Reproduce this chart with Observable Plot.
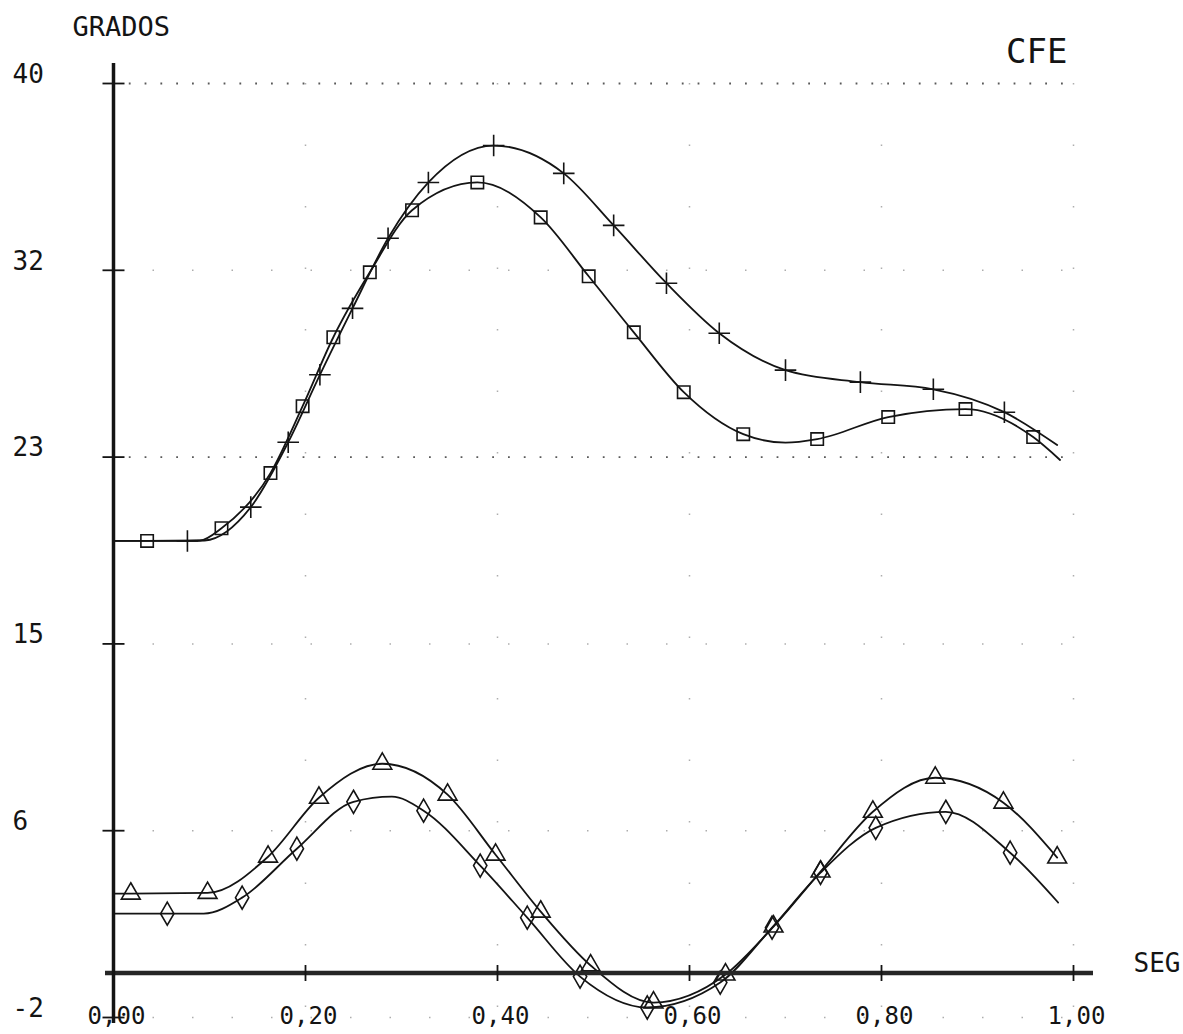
<!DOCTYPE html>
<html>
<head>
<meta charset="utf-8">
<script src="https://cdn.jsdelivr.net/npm/d3@7"></script>
<script src="https://cdn.jsdelivr.net/npm/@observablehq/plot@0.6"></script>
<style>
  html, body { margin: 0; padding: 0; background: #fff; }
  #chart svg { display: block; }
</style>
</head>
<body>
<div id="chart"></div>
<script>
// ---- Data ----
// Y ticks: 5 equal steps from -2 to 40, labels rounded
const yTickValues = [-2, 6.4, 14.8, 23.2, 31.6, 40];
const yTickLabels = ["-2", "6", "15", "23", "32", "40"];
const xTickValues = [0, 0.2, 0.4, 0.6, 0.8, 1.0];
const xTickLabels = ["0,00", "0,20", "0,40", "0,60", "0,80", "1,00"];

// Series A (upper curve, "+" markers)
const aX = [0, 0.077, 0.095, 0.143, 0.182, 0.215, 0.249, 0.286, 0.328, 0.396, 0.469, 0.521, 0.576, 0.631, 0.700, 0.778, 0.854, 0.928, 0.983];
const aY = [19.43, 19.43, 19.45, 20.95, 23.87, 26.9, 29.89, 33.04, 35.55, 37.21, 35.96, 33.62, 31.02, 28.77, 27.11, 26.57, 26.25, 25.22, 23.74];
const aM = [0, 1, 0, 1, 1, 1, 1, 1, 1, 1, 1, 1, 1, 1, 1, 1, 1, 1, 0];

// Series B (upper pair, square markers)
const bX = [0, 0.035, 0.09, 0.1125, 0.1635, 0.197, 0.229, 0.267, 0.311, 0.379, 0.445, 0.495, 0.542, 0.594, 0.656, 0.70, 0.733, 0.807, 0.8875, 0.958, 0.986];
const bY = [19.43, 19.43, 19.45, 20.0, 22.48, 25.49, 28.59, 31.51, 34.30, 35.55, 33.98, 31.33, 28.81, 26.12, 24.23, 23.85, 24.01, 25.00, 25.36, 24.10, 23.07];
const bM = [0, 1, 0, 1, 1, 1, 1, 1, 1, 1, 1, 1, 1, 1, 1, 0, 1, 1, 1, 1, 0];

// Series C (lower pair, triangle markers)
const cX = [0, 0.018, 0.098, 0.161, 0.214, 0.280, 0.348, 0.398, 0.445, 0.497, 0.5625, 0.6375, 0.6875, 0.7365, 0.791, 0.856, 0.927, 0.983];
const cY = [3.57, 3.57, 3.6, 5.23, 7.88, 9.41, 8.02, 5.32, 2.76, 0.34, -1.33, -0.07, 2.09, 4.56, 7.25, 8.78, 7.66, 5.19];
const cM = [0, 1, 1, 1, 1, 1, 1, 1, 1, 1, 1, 1, 1, 1, 1, 1, 1, 1];

// Series D (lower pair, diamond markers)
const dX = [0, 0.056, 0.094, 0.134, 0.191, 0.25, 0.29, 0.323, 0.382, 0.431, 0.486, 0.556, 0.632, 0.686, 0.7365, 0.794, 0.867, 0.934, 0.984];
const dY = [2.67, 2.67, 2.67, 3.39, 5.59, 7.70, 7.93, 7.30, 4.83, 2.49, -0.16, -1.55, -0.43, 2.04, 4.51, 6.53, 7.25, 5.41, 3.17];
const dM = [0, 1, 0, 1, 1, 1, 0, 1, 1, 1, 1, 1, 1, 1, 1, 1, 1, 1, 0];

const seriesNames = ["A", "B", "C", "D"];
const seriesSymbols = ["plus", "square", "triangle", "diamond"];

// ---- Build tables ----
function toRows(name, xs, ys, ms) {
  return xs.map((x, i) => ({series: name, x, y: ys[i], m: ms[i]}));
}
const rows = [
  ...toRows("A", aX, aY, aM),
  ...toRows("B", bX, bY, bM),
  ...toRows("C", cX, cY, cM),
  ...toRows("D", dX, dY, dM)
];
const markers = rows.filter(d => d.m === 1);
const yTicks = yTickValues.map((v, i) => ({v, label: yTickLabels[i]}));
const xTicks = xTickValues.map((v, i) => ({v, label: xTickLabels[i]}));

// custom tick symbols
const hTick = {draw(ctx, size) { const r = Math.sqrt(size / Math.PI); ctx.moveTo(-r, 0); ctx.lineTo(r, 0); }};
const vTick = {draw(ctx, size) { const r = Math.sqrt(size / Math.PI); ctx.moveTo(0, -r); ctx.lineTo(0, r); }};

const font = "DejaVu Sans Mono";
const ink = "#141414";

const chart = Plot.plot({
  width: 1183,
  height: 1034,
  marginLeft: 113,
  marginRight: 110,
  marginTop: 83,
  marginBottom: 17,
  x: {domain: [0, 1], axis: null},
  y: {domain: [-2, 40], axis: null},
  symbol: {domain: seriesNames, range: seriesSymbols},
  style: {background: "#fff", fontFamily: font},
  marks: [
    // sparse dotted grid
    Plot.ruleY(yTickValues.filter(v => v !== 40 && v !== 23.2), {stroke: "#333", strokeWidth: 1.5, strokeDasharray: "1.5 38", strokeOpacity: 0.4}),
    Plot.ruleY([40, 23.2], {stroke: "#222", strokeWidth: 1.8, strokeDasharray: "1.8 14", strokeOpacity: 0.75}),
    Plot.ruleX(xTickValues.filter(v => v > 0), {stroke: "#333", strokeWidth: 1.5, strokeDasharray: "1.5 60", strokeOpacity: 0.4}),
    // curves
    Plot.line(rows, {x: "x", y: "y", z: "series", curve: "monotone-x", stroke: ink, strokeWidth: 1.8}),
    Plot.dot(markers, {x: "x", y: "y", symbol: "series", r: 7, stroke: ink, fill: "none", strokeWidth: 1.6}),
    // axes
    Plot.ruleY([0], {stroke: "#262626", strokeWidth: 4.5, insetLeft: -8, insetRight: -20}),
    Plot.ruleX([0], {stroke: ink, strokeWidth: 3.5, insetTop: -20, insetBottom: -6}),
    Plot.dot(yTicks, {x: () => 0, y: "v", symbol: hTick, r: 11, stroke: ink, fill: "none", strokeWidth: 1.8}),
    Plot.dot(xTicks, {x: "v", y: () => 0, symbol: vTick, r: 8, stroke: ink, fill: "none", strokeWidth: 1.8}),
    // tick labels
    Plot.text(yTicks, {y: "v", text: "label", frameAnchor: "left", dx: -101, dy: -9, textAnchor: "start", fontSize: 26, fontFamily: font, fill: ink}),
    Plot.text(xTicks, {x: "v", text: "label", frameAnchor: "bottom", dx: 3, dy: -1, lineAnchor: "middle", fontSize: 24, fontFamily: font, fill: ink}),
    // titles
    Plot.text(["GRADOS"], {frameAnchor: "top-left", dx: -41, dy: -56, textAnchor: "start", lineAnchor: "middle", fontSize: 27, fontFamily: font, fill: ink}),
    Plot.text(["CFE"], {frameAnchor: "top-right", dx: -6, dy: -31, textAnchor: "end", lineAnchor: "middle", fontSize: 34, fontFamily: font, fill: ink}),
    Plot.text(["SEG"], {x: () => 1, y: () => 0, dx: 60, dy: -9, textAnchor: "start", lineAnchor: "middle", fontSize: 26, fontFamily: font, fill: ink})
  ]
});
document.getElementById("chart").appendChild(chart);
</script>
</body>
</html>
